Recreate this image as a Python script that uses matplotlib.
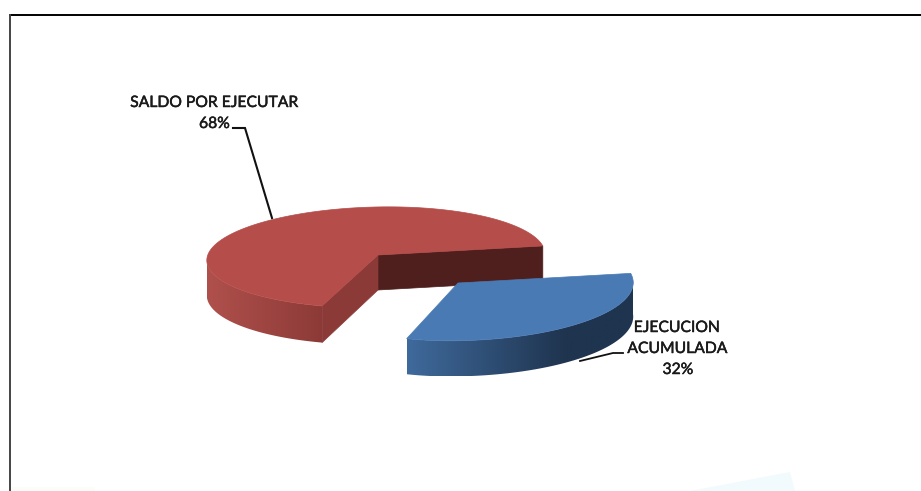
import numpy as np
import matplotlib
matplotlib.use("Agg")
import matplotlib.pyplot as plt
import matplotlib.patheffects as pe
from matplotlib.patches import Polygon

# data
categories = ["SALDO POR EJECUTAR", "EJECUCION\nACUMULADA"]
values = [68, 32]

# colours
red_top = "#B54D4A"
red_cut = "#4E1F1D"
red_cut2 = "#8C3A37"
red_wall = ["#B0504C", "#8C3A37"]
blue_top = "#4A7AB4"
blue_wall = ["#3F6A9C", "#1F344F"]

plt.rcParams['font.family'] = ['Lato', 'DejaVu Sans']

fig = plt.figure(figsize=(9.21, 4.91), dpi=100)
ax = fig.add_axes([0, 0, 1, 1])
ax.set_xlim(0, 921)
ax.set_ylim(491, 0)
ax.axis("off")
ax.autoscale(False)

# the 3d look: tilted circle with a bit of perspective
persp = 0.047
tilt = 3
start = 7.0


def project(t, geo, r=1.0, depth=0.0):
    cx, cy, rl, rr, ry = geo
    t = np.radians(t)
    u = r * np.cos(t)
    v = r * np.sin(t)
    s = 1 / (1 + persp * v)
    rx = np.where(u < 0, rl, rr)
    return cx + rx * u * s, cy - ry * v * s - tilt * u + depth * s


def top_face(t1, t2, geo, color, z):
    t = np.linspace(t1, t2, 200)
    x, y = project(t, geo)
    px, py = project(0, geo, r=0)
    pts = np.column_stack([np.r_[px, x], np.r_[py, y]])
    ax.add_patch(Polygon(pts, closed=True, fc=color, ec=color, lw=0.5, zorder=z))


def outer_wall(t1, t2, geo, d, cols, x_end, z):
    # horizontal gradient clipped to the wall outline
    t = np.linspace(t1, t2, 120)
    x1, y1 = project(t, geo)
    x2, y2 = project(t, geo, depth=d)
    pts = np.column_stack([np.r_[x1, x2[::-1]], np.r_[y1, y2[::-1]]])
    wall = Polygon(pts, closed=True, fc="none", ec="none", transform=ax.transData)
    ax.add_patch(wall)
    x0 = pts[:, 0].min()
    x3 = pts[:, 0].max()
    grad = np.clip((np.linspace(x0, x3, 256) - x0) / (x_end - x0), 0, 1)
    c1 = np.array(matplotlib.colors.to_rgb(cols[0]))
    c2 = np.array(matplotlib.colors.to_rgb(cols[1]))
    img = c1 + (c2 - c1) * grad[:, None]
    im = ax.imshow(img[None, :, :], extent=(x0, x3, pts[:, 1].max(), pts[:, 1].min()),
                   aspect="auto", interpolation="bilinear", zorder=z)
    im.set_clip_path(wall)


def cut_wall(t, geo, d, color, z):
    x, y = project(t, geo)
    px, py = project(0, geo, r=0)
    x2, y2 = project(t, geo, depth=d)
    px2, py2 = project(0, geo, r=0, depth=d)
    pts = [(px, py), (x, y), (x2, y2), (px2, py2)]
    ax.add_patch(Polygon(pts, closed=True, fc=color, ec=color, lw=0.5, zorder=z))


# slice angles come from the values (blue goes clockwise from start)
blue_span = values[1] / sum(values) * 360
t_a = start
t_b = start - blue_span

# red slice
red = (378, 255, 171, 167, 50.3)
d_red = 35
cut_wall(t_a, red, d_red, red_cut, 2)
cut_wall(t_b, red, d_red, red_cut2, 3)
outer_wall(-180, t_b, red, d_red, red_wall, 323, 4)
top_face(t_b, t_a - 360, red, red_top, 5)

# blue slice, pulled out
blue = (458, 283, 157, 175, 55)
d_blue = 34
outer_wall(t_b, t_a - 7, blue, d_blue, blue_wall, 565, 6)
top_face(t_b, t_a, blue, blue_top, 7)

# leader lines
ax.plot([233, 245, 272], [128, 128, 218], color="#111111", lw=1.5, zorder=8,
        solid_joinstyle="miter")
ax.plot([623, 613, 580], [353, 353, 361], color="#111111", lw=1.3, zorder=8,
        solid_joinstyle="miter")

# labels
thick = [pe.withStroke(linewidth=0.35, foreground="#1a1a1a")]
label_style = dict(ha="center", va="center", fontsize=11.3, color="#1a1a1a",
                   path_effects=thick, zorder=9)
ax.text(214.5, 103, categories[0], **label_style)
ax.text(214.5, 124, f"{values[0]}%", **label_style)
ax.text(677, 328, categories[1].split("\n")[0], **label_style)
ax.text(677.5, 349, categories[1].split("\n")[1], **label_style)
ax.text(678, 370, f"{values[1]}%", **label_style)

# frame of the screenshot
ax.plot([9.5, 921], [14.5, 14.5], color="#000000", lw=1.4, zorder=1)
ax.plot([10, 10], [14.5, 491], color="#444444", lw=1.4, zorder=1)

# pale smudges along the bottom edge
ax.add_patch(Polygon([(690, 491), (790, 472), (795, 491)], closed=True, fc="#F1FAFC",
                     ec="none", zorder=0))
ax.add_patch(Polygon([(12, 491), (12, 487), (95, 487), (95, 491)], closed=True, fc="#FCFCF8",
                     ec="none", zorder=0))

fig.savefig("out.png", dpi=100)
